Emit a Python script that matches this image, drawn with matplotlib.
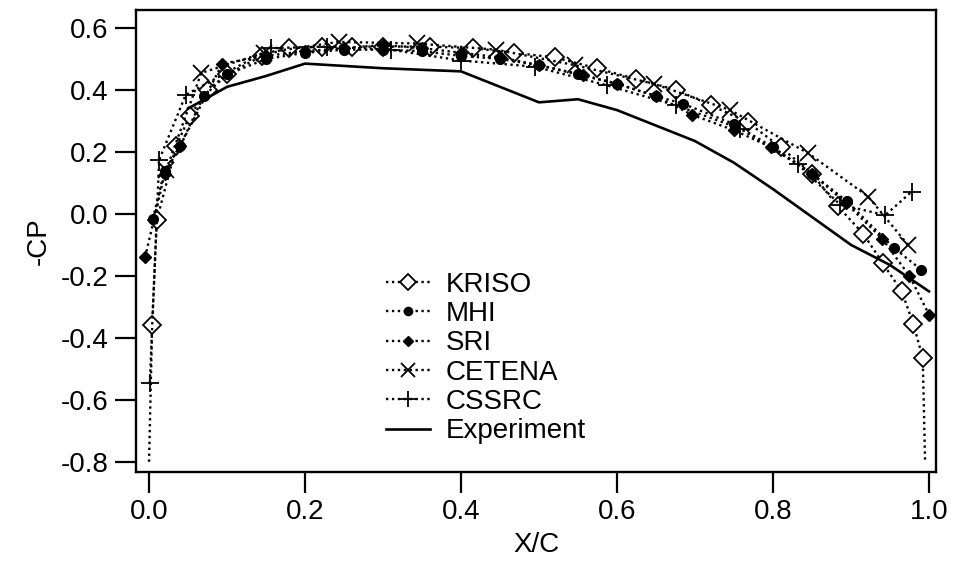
import matplotlib
matplotlib.use("Agg")
import matplotlib.pyplot as plt

plt.rcParams['font.family'] = ['Liberation Sans', 'DejaVu Sans']

# ---- data ----
kriso_x = [0.0, 0.004, 0.010, 0.035, 0.052, 0.075, 0.10, 0.145, 0.18, 0.222, 0.26, 0.30, 0.36,
           0.415, 0.468, 0.52, 0.574, 0.625, 0.676, 0.721, 0.768, 0.81, 0.85, 0.883, 0.916,
           0.941, 0.965, 0.98, 0.992, 0.995]
kriso_y = [-0.80, -0.36, -0.02, 0.22, 0.315, 0.40, 0.45, 0.51, 0.535, 0.54, 0.54, 0.54, 0.54,
           0.535, 0.52, 0.505, 0.47, 0.435, 0.40, 0.35, 0.295, 0.215, 0.13, 0.025, -0.065,
           -0.16, -0.25, -0.355, -0.465, -0.80]

mhi_x = [0.005, 0.02, 0.04, 0.07, 0.10, 0.15, 0.20, 0.25, 0.30, 0.35, 0.40, 0.45, 0.50,
         0.55, 0.60, 0.65, 0.685, 0.75, 0.80, 0.85, 0.895, 0.955, 0.99]
mhi_y = [-0.015, 0.14, 0.22, 0.38, 0.45, 0.50, 0.52, 0.53, 0.53, 0.525, 0.51, 0.50, 0.48,
         0.45, 0.42, 0.38, 0.355, 0.29, 0.215, 0.13, 0.04, -0.11, -0.18]

sri_x = [-0.005, 0.02, 0.04, 0.094, 0.15, 0.20, 0.25, 0.30, 0.35, 0.40, 0.45, 0.50, 0.557,
         0.60, 0.65, 0.696, 0.75, 0.798, 0.85, 0.894, 0.94, 0.975, 1.0]
sri_y = [-0.14, 0.13, 0.22, 0.485, 0.51, 0.525, 0.535, 0.545, 0.535, 0.52, 0.505, 0.48, 0.448,
         0.42, 0.38, 0.32, 0.27, 0.215, 0.13, 0.034, -0.08, -0.20, -0.325]

cetena_x = [0.022, 0.067, 0.148, 0.243, 0.343, 0.445, 0.546, 0.647, 0.745, 0.845, 0.922, 0.973]
cetena_y = [0.142, 0.455, 0.52, 0.555, 0.55, 0.53, 0.48, 0.42, 0.335, 0.196, 0.056, -0.10]

cssrc_x = [0.001, 0.013, 0.047, 0.157, 0.228, 0.31, 0.40, 0.495, 0.587, 0.676, 0.758, 0.832,
           0.886, 0.944, 0.978]
cssrc_y = [-0.547, 0.174, 0.384, 0.535, 0.54, 0.53, 0.495, 0.475, 0.415, 0.35, 0.275, 0.16,
           0.03, -0.004, 0.072]

exp_x = [0.05, 0.10, 0.15, 0.20, 0.30, 0.40, 0.50, 0.55, 0.60, 0.70, 0.75, 0.80, 0.85, 0.90,
         0.95, 1.0]
exp_y = [0.34, 0.41, 0.445, 0.485, 0.47, 0.46, 0.36, 0.37, 0.335, 0.235, 0.165, 0.08, -0.01,
         -0.10, -0.165, -0.25]

x_ticks = [0.0, 0.2, 0.4, 0.6, 0.8, 1.0]
y_ticks = [-0.8, -0.6, -0.4, -0.2, 0.0, 0.2, 0.4, 0.6]

# ---- figure ----
fig = plt.figure(figsize=(9.55, 5.64), dpi=100)
ax = fig.add_axes([136/955, 1 - 471.7/564, 800/955, 461.7/564])

dot = (0, (1, 1.5))
lw = 1.7
ax.plot(kriso_x, kriso_y, color='black', linestyle=dot, lw=lw, marker='D', ms=9.5,
        mfc='white', mec='black', mew=1.3, markevery=list(range(1, len(kriso_x) - 1)),
        label='KRISO')
ax.plot(mhi_x, mhi_y, color='black', linestyle=dot, lw=lw, marker='o', ms=7,
        mfc='black', mec='black', label='MHI')
ax.plot(sri_x, sri_y, color='black', linestyle=dot, lw=lw, marker='D', ms=6,
        mfc='black', mec='black', label='SRI')
ax.plot(cetena_x, cetena_y, color='black', linestyle=dot, lw=lw, marker='x', ms=12,
        mew=1.3, label='CETENA')
ax.plot(cssrc_x, cssrc_y, color='black', linestyle=dot, lw=lw, marker='+', ms=13,
        mew=1.3, label='CSSRC')
ax.plot(exp_x, exp_y, color='black', linestyle='-', lw=1.9, label='Experiment')

ax.set_xlim(-0.0167, 1.009)
ax.set_ylim(-0.832, 0.658)
ax.set_xticks(x_ticks)
ax.set_xticklabels([f"{v:.1f}" for v in x_ticks])
ax.set_yticks(y_ticks)
ax.set_yticklabels([f"{v:.1f}" for v in y_ticks])

for s in ax.spines.values():
    s.set_linewidth(1.7)
ax.tick_params(direction='out', length=15, width=1.6, labelsize=20, pad=5)

ax.set_xlabel('X/C', fontsize=20, labelpad=5)
ax.set_ylabel('-CP', fontsize=20, labelpad=6)

leg = ax.legend(loc='upper left', bbox_to_anchor=(0.312, 0.433), frameon=False,
                fontsize=20, handlelength=1.6, labelspacing=0.12, handletextpad=0.55,
                borderaxespad=0, borderpad=0, markerscale=0.85)

fig.savefig('out.png', dpi=100)
